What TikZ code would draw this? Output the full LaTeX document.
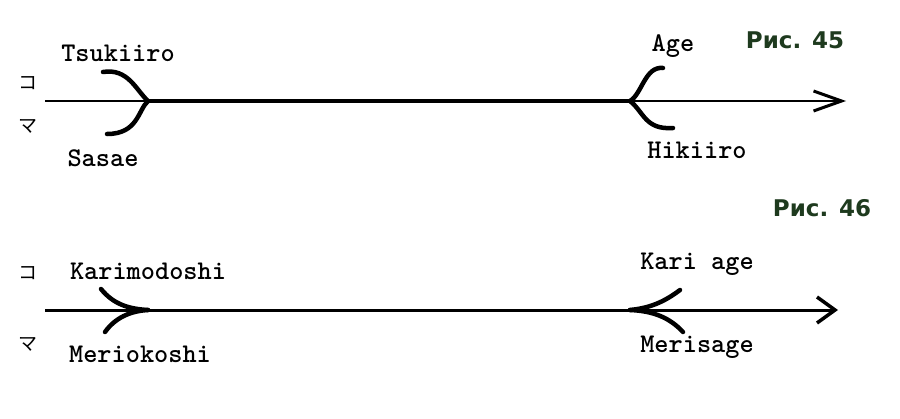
\documentclass[tikz,border=0pt]{standalone}
\usepackage{fontspec}
\newfontfamily\cjk{Noto Sans CJK JP}
\newfontfamily\figfont{DejaVu Sans}
\usetikzlibrary{arrows.meta}
\definecolor{figgreen}{HTML}{1E3A1E}
\tikzset{
term/.style={font=\ttfamily\bfseries\fontsize{27}{27}\selectfont}, % labels of the strokes
kana/.style={font=\cjk\fontsize{19}{19}\selectfont}, % side marks
caption/.style={font=\figfont\bfseries\fontsize{23}{23}\selectfont, text=figgreen}, % figure numbers
axis/.style={line width=2.4pt}, % the long line
hook/.style={line width=4.5pt, line cap=round}, % the curved strokes
}

\begin{document}
\begin{tikzpicture}[x=1pt, y=-1pt]
\useasboundingbox (0,0) rectangle (900,418);

% figure 45
\coordinate (s45) at (45,101);
\coordinate (e45) at (846,101);
\coordinate (j1) at (148,101);
\coordinate (j2) at (630,101);
\coordinate (t1) at (103,72);
\coordinate (b1) at (107,134);
\coordinate (t2) at (663,68);
\coordinate (b2) at (673,128);

\node[kana] at (28,83) (ko45) {コ};
\node[kana] at (28,126) (ma45) {マ};
\node[term] at (118,53) (tsukiiro) {Tsukiiro};
\node[term] at (103,158) (sasae) {Sasae};
\node[term] at (673,46) (age) {Age};
\node[term] at (697,150) (hikiiro) {Hikiiro};
\node[caption] at (795,40) (fig45) {Рис. 45};

\draw[axis, -{Straight Barb[length=28pt, width=20pt, line width=3pt]}] (s45) -- (e45);
\draw[line width=3.5pt] (j1) -- (j2);
\draw[hook] (t1) .. controls (128,68) and (136,90) .. (j1);
\draw[hook] (j1) .. controls (138,110) and (138,134) .. (b1);
\draw[hook] (t2) .. controls (645,66) and (642,94) .. (j2);
\draw[hook] (j2) .. controls (644,112) and (645,130) .. (b2);

% figure 46
\coordinate (s46) at (45,310);
\coordinate (e46) at (838,310);
\coordinate (j3) at (148,310);
\coordinate (j4) at (630,310);
\coordinate (t3) at (101,289);
\coordinate (b3) at (105,332);
\coordinate (t4) at (680,290);
\coordinate (b4) at (683,332);

\node[kana] at (28,273) (ko46) {コ};
\node[kana] at (28,344) (ma46) {マ};
\node[term] at (148,271) (karimodoshi) {Karimodoshi};
\node[term] at (140,354) (meriokoshi) {Meriokoshi};
\node[term] at (697,264) (kariage) {Kari age};
\node[term] at (697,347) (merisage) {Merisage};
\node[caption] at (822,208) (fig46) {Рис. 46};

\draw[axis, line width=3pt, -{Straight Barb[length=18pt, width=26pt, line width=3.5pt]}] (s46) -- (e46);
\draw[hook] (t3) .. controls (114,305) and (130,309) .. (j3);
\draw[hook] (b3) .. controls (115,318) and (130,311) .. (j3);
\draw[hook] (t4) .. controls (664,302) and (650,308) .. (j4);
\draw[hook] (b4) .. controls (670,318) and (654,311) .. (j4);

\end{tikzpicture}
\end{document}
